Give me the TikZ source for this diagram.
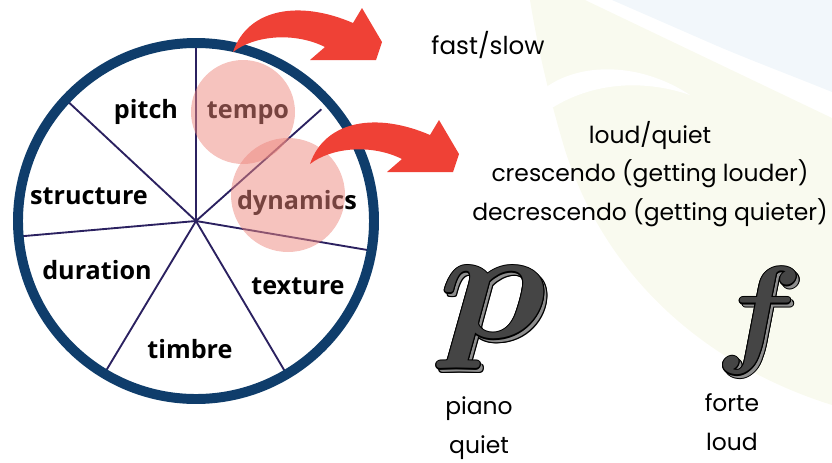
\documentclass[tikz,border=0pt]{standalone}
\usepackage{fontspec}
\setmainfont{Poppins}
\newfontfamily\wheelfont{Open Sans}
\usetikzlibrary{positioning}
\definecolor{mRing}{HTML}{0F3D6B}
\definecolor{mSpoke}{HTML}{2B2160}
\definecolor{mRed}{HTML}{EF4136}
\definecolor{mPink}{HTML}{ED877E}
\definecolor{mGlyph}{HTML}{454545}
\definecolor{mShade}{HTML}{8E8E8E}
\definecolor{mPaleY}{HTML}{F9FAEF}
\definecolor{mPaleB}{HTML}{F2F7FB}

\tikzset{
  seg/.style={font=\wheelfont\bfseries\fontsize{21.5}{24}\selectfont,text=black},
  info/.style={font=\fontsize{20}{33}\selectfont,align=center,inner sep=0pt},
  hilite/.style={fill=mPink,opacity=0.5},
  dynfont/.style={font=\fontsize{10}{10}\usefont{OML}{cmm}{b}{it}},
}

% dynamic mark with outline and a grey 3D edge
\newcommand{\dynmark}[3]{%
  \foreach \a in {0,45,...,315}{
    \node[dynfont,text=black,shift={(\a:1pt)},xshift=2.8pt,yshift=-2.8pt] at (#2) {#3};
  }
  \node[dynfont,text=mShade,xshift=1.4pt,yshift=-1.4pt] at (#2) {#3};
  \node[dynfont,text=mShade,xshift=2.8pt,yshift=-2.8pt] at (#2) {#3};
  \foreach \a in {0,45,...,315}{
    \node[dynfont,text=black,shift={(\a:1pt)}] at (#2) {#3};
  }
  \node[dynfont,text=mGlyph] (#1) at (#2) {#3};
}

\begin{document}
% pixel grid of the reference, y pointing down
\begin{tikzpicture}[x=0.03cm,y=-0.03cm]
  \useasboundingbox (0,0) rectangle (832,462);
  % ---- faint background ----
  \fill[mPaleB] (612,0) -- (832,0) -- (832,92) .. controls (790,75) and (750,60) .. (715,45) -- cycle;
  \fill[mPaleY] (530,0) -- (585,0) -- (832,118) -- (832,405)
    .. controls (720,370) and (610,290) .. (565,150)
    .. controls (550,100) and (538,50) .. (530,0) -- cycle;
  \fill[white] (545,88) .. controls (580,62) and (640,62) .. (690,95)
    .. controls (640,78) and (590,84) .. (552,108) -- cycle;

  % ---- wheel ----
  \coordinate (hub) at (196,221);
  \foreach \a in {90,-9.6,-59.4,-121,185,137}{
    \draw[mSpoke,line width=1.6pt] (hub) -- ++(-\a:176);
  }
  \draw[mSpoke,line width=1.6pt] (hub) -- ++(-41.7:168);
  \draw[mRing,line width=8.5pt] (hub) circle[radius=178];

  \node[seg] (pitch) at (146,112) {pitch};
  \node[seg] (tempo) at (248,113) {tempo};
  \node[seg] (structure) at (89,196) {structure};
  \node[seg] (dynamics) at (297,203) {dynamics};
  \node[seg] (duration) at (97,270) {duration};
  \node[seg] (texture) at (298,286) {texture};
  \node[seg] (timbre) at (190,349) {timbre};

  \fill[hilite] (243,112) circle[radius=52];
  \fill[hilite] (288,195) circle[radius=57];

  % ---- bent arrows ----
  \foreach \dx/\dy in {0/0,77/112}{
    \begin{scope}[shift={(\dx,\dy)}]
      \fill[mRed] (233,52) .. controls (248,8) and (300,0) .. (353,23)
        -- (362,8) -- (382,42) -- (376,60) -- (310,60) -- (325,47)
        .. controls (295,32) and (255,35) .. (233,52) -- cycle;
    \end{scope}
  }

  % ---- texts ----
  \node[info,font=\fontsize{21}{33}\selectfont] (tempotxt) at (488,45) {fast/slow};
  \node[info] (dyntxt) at (650,174) {loud/quiet\\crescendo (getting louder)\\decrescendo (getting quieter)};

  \dynmark{pmark}{493,318}{\scalebox{15.2}[13.6]{p}}
  \dynmark{fmark}{752,321}{\scalebox{11}[10.2]{f}}

  \node[info] (piano) at (479,428) {piano\\quiet};
  \node[info] (forte) at (732,422) {forte\\loud};
\end{tikzpicture}
\end{document}
